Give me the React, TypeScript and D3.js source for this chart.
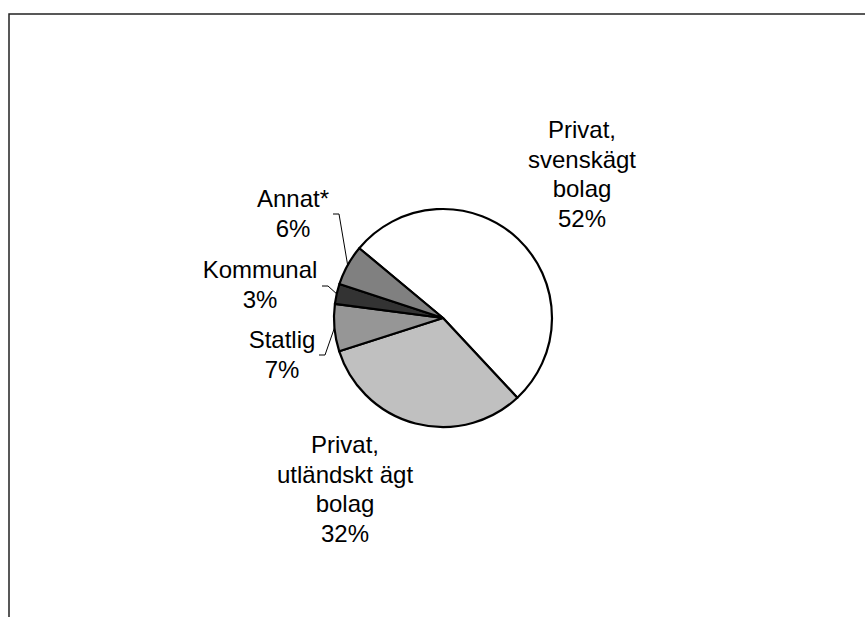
import React from 'react';
import * as d3 from 'd3';

// slices, clockwise from the first slice
const categories = ['Privat, svenskägt bolag', 'Privat, utländskt ägt bolag', 'Statlig', 'Kommunal', 'Annat*'];
const shares = [52, 32, 7, 3, 6];
const sliceColors = ['#ffffff', '#c0c0c0', '#969696', '#333333', '#808080'];

// label text lines for each slice
const labelLines = [
  ['Privat,', 'svenskägt', 'bolag', '52%'],
  ['Privat,', 'utländskt ägt', 'bolag', '32%'],
  ['Statlig', '7%'],
  ['Kommunal', '3%'],
  ['Annat*', '6%'],
];

const W = 865;
const H = 617;
const cx = 443;
const cy = 318;
const radius = 109;
const lineH = 29.5;

// label anchor: centre x, first baseline
const labelPos: [number, number][] = [
  [582, 138],
  [345, 453],
  [282, 348],
  [260, 278],
  [293, 207],
];

const App: React.FC = () => {
  const pie = d3.pie<number>()
    .sort(null)
    .startAngle((-50.2 * Math.PI) / 180)
    .endAngle(((360 - 50.2) * Math.PI) / 180);
  const arcs = pie(shares);
  const arc = d3.arc<d3.PieArcDatum<number>>().innerRadius(0).outerRadius(radius);

  const edge = (a: d3.PieArcDatum<number>) => {
    const m = (a.startAngle + a.endAngle) / 2;
    return [cx + radius * Math.sin(m), cy - radius * Math.cos(m)];
  };

  // leader lines for the small slices (index: [labelEndX, labelEndY])
  const leaders: { i: number; x: number; y: number }[] = [
    { i: 2, x: 319, y: 355 },
    { i: 3, x: 322, y: 286 },
    { i: 4, x: 333, y: 214 },
  ];

  return (
    <svg
      width={W}
      height={H}
      style={{ position: 'fixed', left: 0, top: 0, background: '#fff' }}
      fontFamily="'Liberation Sans', Arial, sans-serif"
    >
      <rect x={9} y={14} width={W} height={H} fill="none" stroke="#222" strokeWidth={1.5} />
      <g transform={`translate(${cx},${cy})`}>
        {arcs.map((a, i) => (
          <path key={categories[i]} d={arc(a) || ''} fill={sliceColors[i]} stroke="#000" strokeWidth={2.2} strokeLinejoin="round" />
        ))}
      </g>
      {leaders.map(({ i, x, y }) => {
        const [ex, ey] = edge(arcs[i]);
        const bend = x + 6;
        return (
          <polyline key={i} points={`${x},${y} ${bend},${y} ${ex},${ey}`} fill="none" stroke="#000" strokeWidth={1} />
        );
      })}
      {labelLines.map((lines, i) => (
        <text key={i} x={labelPos[i][0]} y={labelPos[i][1]} textAnchor="middle" fontSize={24} fill="#000">
          {lines.map((l, j) => (
            <tspan key={j} x={labelPos[i][0]} dy={j === 0 ? 0 : lineH}>{l}</tspan>
          ))}
        </text>
      ))}
    </svg>
  );
};

export default App;
